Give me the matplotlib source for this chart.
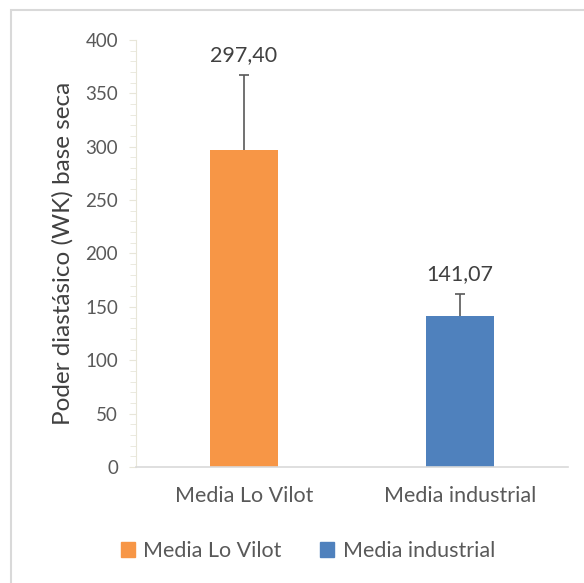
import numpy as np
import matplotlib.pyplot as plt
from matplotlib.patches import Rectangle
from matplotlib.ticker import MultipleLocator

categories = ['Media Lo Vilot', 'Media industrial']
means = [297.40, 141.07]
errors = [70.0, 21.0]
labels = ['297,40', '141,07']
colors = ['#F79646', '#4F81BD']

plt.rcParams['font.family'] = ['Lato', 'DejaVu Sans']
txt = '#595959'

fig = plt.figure(figsize=(5.84, 5.83), dpi=100)
ax = fig.add_axes([136/584, 1 - 467/583, 432/584, 427/583])

x = np.arange(len(categories))
tops = np.array(means) + np.array(errors)
ax.bar(x, means, width=0.315, color=colors, zorder=2)
# upper-only error bars
ax.vlines(x, means, tops, color='#595959', linewidth=1.2, zorder=3)
ax.hlines(tops, x - 0.024, x + 0.024, color='#595959', linewidth=1.2, zorder=3)
for xi, t, lab in zip(x, tops, labels):
    ax.text(xi, t + 9, lab, ha='center', va='bottom', fontsize=15.5, color='#404040')

ax.set_xlim(-0.5, 1.5)
ax.set_ylim(0, 400)
ax.yaxis.set_major_locator(MultipleLocator(50))
ax.yaxis.set_minor_locator(MultipleLocator(10))
ax.set_xticks(x)
ax.set_xticklabels(categories)
ax.tick_params(axis='x', length=0, labelsize=15.5, labelcolor=txt, pad=14)
ax.tick_params(axis='y', which='major', length=5, color='#E8E6D9', labelsize=13.5, labelcolor=txt, pad=8)
ax.tick_params(axis='y', which='minor', length=4, color='#E8E6D9')
for s in ['top', 'right']:
    ax.spines[s].set_visible(False)
ax.spines['left'].set_color('#E8E6D9')
ax.spines['bottom'].set_color('#D9D9D9')
ax.spines['bottom'].set_linewidth(1.2)
ax.set_ylabel('Poder diastásico (WK) base seca', fontsize=17.5, color='#404040', labelpad=8)

handles = [Rectangle((0, 0), 1, 1, color=c) for c in colors]
fig.legend(handles, categories, loc='center', bbox_to_anchor=(308/584, 1 - 551/583),
           ncol=2, frameon=False, fontsize=15.5, labelcolor=txt,
           handlelength=0.65, handleheight=0.65, handletextpad=0.4, columnspacing=1.8)

fig.add_artist(Rectangle((11/584, -0.1), 1.2, 1 - 10/583 + 0.1, transform=fig.transFigure,
                         fill=False, edgecolor='#D9D9D9', linewidth=1.5))

fig.savefig('out.png', dpi=100)
